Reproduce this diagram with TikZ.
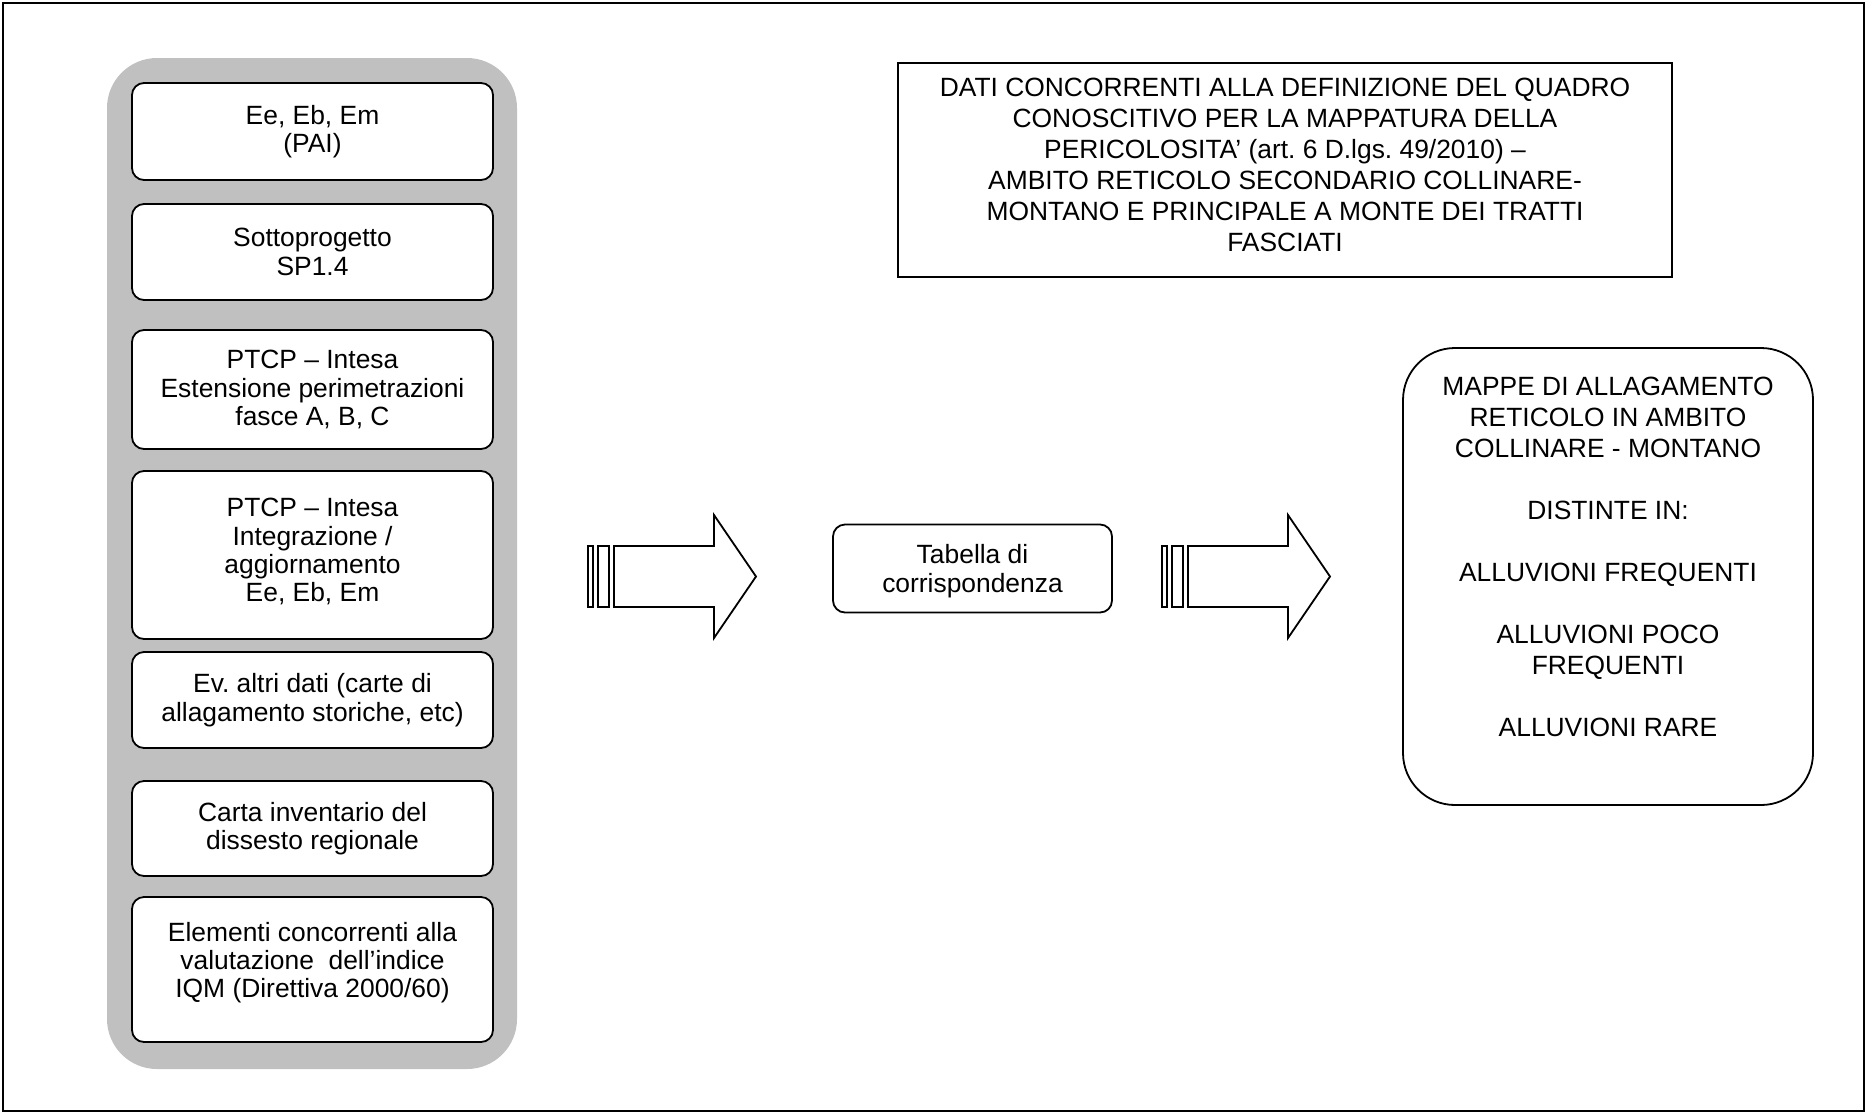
\documentclass[tikz,border=0pt]{standalone}
\usepackage{fontspec}
\setmainfont{Liberation Sans}
\usetikzlibrary{positioning}
\definecolor{pannello}{RGB}{192,192,192}
\frenchspacing

\tikzset{
  dato/.style={draw, line width=0.9pt, rounded corners=6pt, fill=white,
    align=center, minimum width=180.5pt, inner sep=2pt,
    font=\fontsize{13.2pt}{14.2pt}\selectfont},
  titolo/.style={draw, line width=0.9pt, align=center, minimum width=387pt,
    minimum height=107pt},
  mappa/.style={draw, line width=0.9pt, rounded corners=26pt, align=center,
    minimum width=205pt, minimum height=228.5pt},
  freccia/.style={draw, line width=0.9pt, line join=miter}
}

\begin{document}
\begin{tikzpicture}[x=0.5pt, y=-0.5pt, font=\fontsize{13.2pt}{15.5pt}\selectfont]
\useasboundingbox (0,0) rectangle (1867,1114);
\draw[line width=1pt] (3,3) rectangle (1864,1111);

% colonna dei dati
\node (pannello) [fill=pannello, rounded corners=25pt, minimum width=205pt,
  minimum height=505.5pt] at (312,563.5) {};
\node (pai) [dato, minimum height=48.5pt] at (312.5,131.5) {Ee, Eb, Em\\(PAI)};
\node (sp) [dato, minimum height=48pt] at (312.5,252) {Sottoprogetto\\SP1.4};
\node (fasce) [dato, minimum height=59.5pt] at (312.5,389.5)
  {PTCP – Intesa\\Estensione perimetrazioni\\fasce A, B, C};
\node (integr) [dato, minimum height=84pt, text depth=5pt] at (312.5,555)
  {PTCP – Intesa\\Integrazione /\\aggiornamento\\Ee, Eb, Em};
\node (altri) [dato, minimum height=48pt] at (312.5,700)
  {Ev. altri dati (carte di\\allagamento storiche, etc)};
\node (dissesto) [dato, minimum height=47.5pt] at (312.5,828.5)
  {Carta inventario del\\dissesto regionale};
\node (iqm) [dato, minimum height=72.5pt, text depth=9.5pt] at (312.5,969.5)
  {Elementi concorrenti alla\\valutazione\ \ dell’indice\\IQM (Direttiva 2000/60)};

% titolo
\node (tit) [titolo, text depth=5pt] at (1285,170)
  {DATI CONCORRENTI ALLA DEFINIZIONE DEL QUADRO\\
   CONOSCITIVO PER LA MAPPATURA DELLA\\
   PERICOLOSITA’ (art. 6 D.lgs. 49/2010) –\\
   AMBITO RETICOLO SECONDARIO COLLINARE-\\
   MONTANO E PRINCIPALE A MONTE DEI TRATTI\\
   FASCIATI};

% tabella e mappe
\node (tab) [dato, minimum width=139.5pt, minimum height=44pt, text depth=0pt]
  at (972.5,568.5) {Tabella di\\corrispondenza};
\node (mappe) [mappa, text depth=20pt] at (1608,576.5)
  {MAPPE DI ALLAGAMENTO\\RETICOLO IN AMBITO\\COLLINARE - MONTANO\\[15.5pt]
   DISTINTE IN:\\[15.5pt]ALLUVIONI FREQUENTI\\[15.5pt]
   ALLUVIONI POCO\\FREQUENTI\\[15.5pt]ALLUVIONI RARE};

% frecce
\foreach \dx in {0,574} {
  \draw[freccia] (588+\dx,546) rectangle (593+\dx,607);
  \draw[freccia] (598+\dx,546) rectangle (609+\dx,607);
  \draw[freccia] (614+\dx,546) -- (714+\dx,546) -- (714+\dx,515)
    -- (756+\dx,576.5) -- (714+\dx,638) -- (714+\dx,607) -- (614+\dx,607) -- cycle;
}
\end{tikzpicture}
\end{document}
